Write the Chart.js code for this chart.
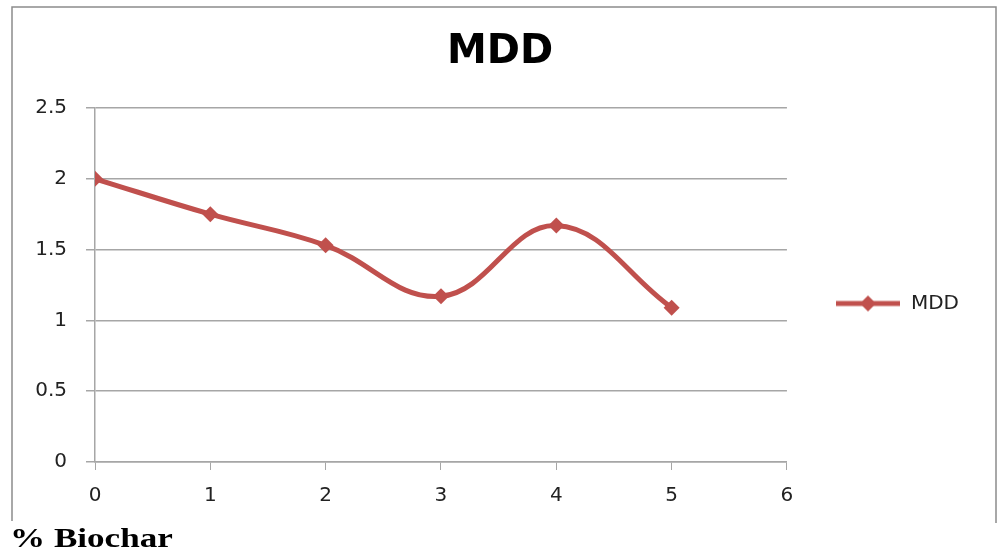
<!DOCTYPE html>
<html>
<head>
<meta charset="utf-8">
<script src="https://cdn.jsdelivr.net/npm/chart.js@4/dist/chart.umd.min.js"></script>
<style>
  html, body { margin: 0; padding: 0; background: #fff; }
  #wrap { position: relative; width: 1000px; height: 553px; }
  #note {
    position: absolute; left: 10px; top: 523px;
    font: bold 27px "Liberation Serif", "DejaVu Serif", serif; color: #000;
    transform: scaleX(1.3); transform-origin: left top; white-space: nowrap;
  }
</style>
</head>
<body>
<div id="wrap">
  <canvas id="mdd-chart" width="1000" height="553"></canvas>
  <div id="note">% Biochar</div>
</div>
<script>
// Data
const biocharLevels = [0, 1, 2, 3, 4, 5];
const mddValues = [2.0, 1.75, 1.53, 1.17, 1.67, 1.09];
const yTicks = [0, 0.5, 1, 1.5, 2, 2.5];
const xTicks = [0, 1, 2, 3, 4, 5, 6];

const lineColor = '#C0504D';
const gridColor = '#a6a6a6';
const textColor = '#222';

// legend symbol: line with a diamond in the middle
function legendSymbol() {
  const c = document.createElement('canvas');
  c.width = 66;
  c.height = 18;
  const g = c.getContext('2d');
  g.strokeStyle = lineColor;
  g.lineWidth = 5;
  g.beginPath();
  g.moveTo(1, 9);
  g.lineTo(65, 9);
  g.stroke();
  g.fillStyle = lineColor;
  g.beginPath();
  g.moveTo(33, 1);
  g.lineTo(41, 9);
  g.lineTo(33, 17);
  g.lineTo(25, 9);
  g.closePath();
  g.fill();
  return c;
}

// outer frame of the chart box
const framePlugin = {
  id: 'frame',
  beforeDraw(chart) {
    const ctx = chart.ctx;
    ctx.save();
    ctx.strokeStyle = '#8c8c8c';
    ctx.lineWidth = 1.5;
    ctx.beginPath();
    ctx.moveTo(12, 521);
    ctx.lineTo(12, 7);
    ctx.lineTo(996, 7);
    ctx.lineTo(996, 523);
    ctx.stroke();
    ctx.restore();
  },
};

const symbol = legendSymbol();

new Chart(document.getElementById('mdd-chart'), {
  type: 'line',
  data: {
    datasets: [
      {
        label: 'MDD',
        data: biocharLevels.map((x, i) => ({ x: x, y: mddValues[i] })),
        borderColor: lineColor,
        backgroundColor: lineColor,
        borderWidth: 5,
        pointStyle: 'rectRot',
        pointRadius: 8,
        pointBorderWidth: 0,
        tension: 0.4,
        cubicInterpolationMode: 'default',
      },
    ],
  },
  options: {
    responsive: false,
    animation: false,
    layout: {
      padding: { left: 31, right: 31, top: 0, bottom: 0 },
    },
    plugins: {
      title: {
        display: true,
        text: 'MDD',
        color: '#000',
        font: { family: 'DejaVu Sans', size: 40, weight: 'bold' },
        padding: { top: 29, bottom: 31 },
      },
      legend: {
        display: true,
        position: 'right',
        // empty title only pushes the legend entry down a little
        title: {
          display: true,
          text: ' ',
          font: { size: 20 },
          padding: 15,
        },
        labels: {
          usePointStyle: true,
          pointStyleWidth: 66,
          color: textColor,
          font: { family: 'DejaVu Sans', size: 20 },
          padding: 48,
          generateLabels: (chart) => [
            {
              text: 'MDD',
              pointStyle: symbol,
              fillStyle: lineColor,
              strokeStyle: lineColor,
              fontColor: textColor,
              lineWidth: 0,
              datasetIndex: 0,
            },
          ],
        },
      },
      tooltip: { enabled: false },
    },
    scales: {
      x: {
        type: 'linear',
        min: 0,
        max: 6,
        afterBuildTicks: (scale) => {
          scale.ticks = xTicks.map((v) => ({ value: v }));
        },
        afterFit: (scale) => {
          scale.height = 91;
        },
        grid: {
          drawOnChartArea: false,
          drawTicks: true,
          tickLength: 8,
          color: gridColor,
        },
        border: { color: gridColor, width: 1.5 },
        ticks: {
          color: textColor,
          font: { family: 'DejaVu Sans', size: 20 },
          padding: 14,
        },
      },
      y: {
        min: 0,
        max: 2.5,
        afterBuildTicks: (scale) => {
          scale.ticks = yTicks.map((v) => ({ value: v }));
        },
        afterFit: (scale) => {
          scale.width = 64;
        },
        grid: {
          color: gridColor,
          lineWidth: 1.5,
          drawTicks: true,
          tickLength: 9,
        },
        border: { color: gridColor, width: 1.5 },
        ticks: {
          color: textColor,
          font: { family: 'DejaVu Sans', size: 20 },
          padding: 19,
          callback: (value) => String(value),
        },
      },
    },
  },
  plugins: [framePlugin],
});
</script>
</body>
</html>
